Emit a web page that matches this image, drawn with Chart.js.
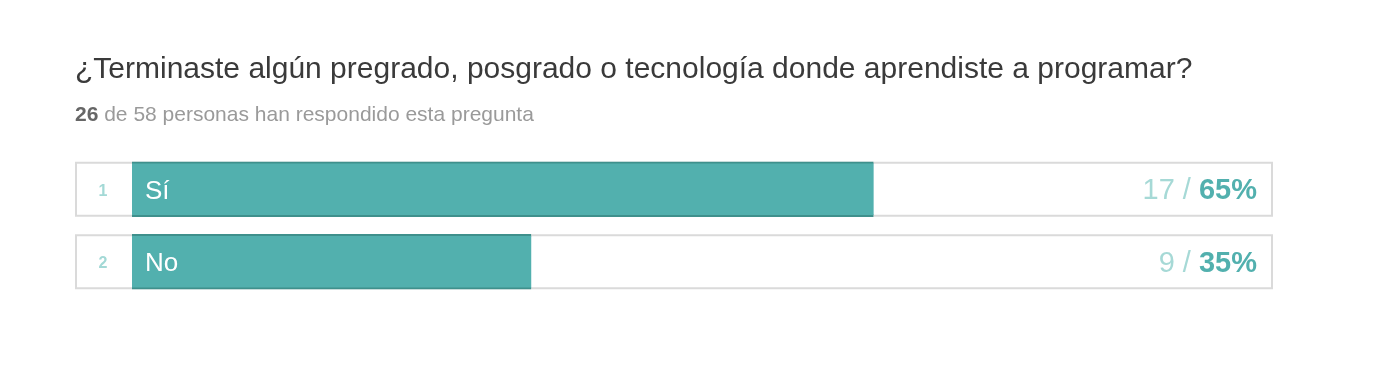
<!DOCTYPE html>
<html>
<head>
<meta charset="utf-8">
<script src="https://cdn.jsdelivr.net/npm/chart.js@4.4.0/dist/chart.umd.min.js"></script>
<style>
  body { margin: 0; background: #fff; font-family: "Liberation Sans", Arial, sans-serif; }
  #wrap { position: relative; width: 1384px; height: 370px; }
  #title { position: absolute; left: 75px; top: 53px; font-size: 30px; line-height: 30px; color: #3a3a3a; white-space: nowrap; }
  #sub { position: absolute; left: 75px; top: 103px; font-size: 21px; line-height: 21px; color: #9a9a9a; white-space: nowrap; }
  #sub b { color: #666; }
  canvas { position: absolute; left: 0; top: 0; }
</style>
</head>
<body>
<div id="wrap">
  <canvas id="surveyChart" width="1384" height="370"></canvas>
  <div id="title">¿Terminaste algún pregrado, posgrado o tecnología donde aprendiste a programar?</div>
  <div id="sub"><b id="answered"></b> de <span id="total"></span> personas han respondido esta pregunta</div>
</div>
<script>
let respuestas = ['Sí', 'No'];
let votos = [17, 9];
let porcentajes = [65, 35];
let respondieron = 26;
let personas = 58;

document.getElementById('answered').innerText = respondieron;
document.getElementById('total').innerText = personas;

// dibuja las cajas de cada fila y los textos (número, respuesta, conteo)
let filasPlugin = {
  id: 'filas',
  beforeDatasetsDraw(chart) {
    let ctx = chart.ctx, y = chart.scales.y, area = chart.chartArea;
    ctx.save();
    respuestas.forEach((r, i) => {
      let cy = y.getPixelForValue(i);
      ctx.strokeStyle = '#dadada';
      ctx.lineWidth = 2;
      ctx.strokeRect(76, cy - 26.5, area.right - 77, 53);
      ctx.fillStyle = '#a3d9d6';
      ctx.font = 'bold 16px "Liberation Sans", Arial';
      ctx.textAlign = 'center';
      ctx.textBaseline = 'alphabetic';
      ctx.fillText(String(i + 1), 103, cy + 6.5);
    });
    ctx.restore();
  },
  afterDatasetsDraw(chart) {
    let ctx = chart.ctx, y = chart.scales.y;
    ctx.save();
    ctx.textBaseline = 'alphabetic';
    respuestas.forEach((r, i) => {
      let cy = y.getPixelForValue(i);
      ctx.fillStyle = '#fff';
      ctx.textAlign = 'left';
      ctx.font = '26px "Liberation Sans", Arial';
      ctx.fillText(r, 145, cy + 9.5);
      ctx.textAlign = 'right';
      ctx.font = 'bold 29px "Liberation Sans", Arial';
      let pct = porcentajes[i] + '%';
      ctx.fillStyle = '#52b0ae';
      ctx.fillText(pct, 1257, cy + 10);
      let w = ctx.measureText(pct).width;
      ctx.font = '29px "Liberation Sans", Arial';
      ctx.fillStyle = '#a6d9d6';
      ctx.fillText(votos[i] + ' / ', 1257 - w, cy + 10);
    });
    ctx.restore();
  }
};

let surveyChart = new Chart(document.getElementById('surveyChart').getContext('2d'), {
  type: 'bar',
  data: {
    labels: respuestas,
    datasets: [{
      label: 'Respuestas',
      data: porcentajes,
      backgroundColor: '#52b0ae',
      borderColor: '#3f908c',
      borderWidth: {top: 2, bottom: 2, left: 0, right: 0},
      borderSkipped: false,
      barThickness: 55
    }]
  },
  options: {
    indexAxis: 'y',
    responsive: false,
    animation: false,
    layout: { padding: {left: 132, right: 111, top: 153, bottom: 72} },
    scales: {
      x: { display: false, min: 0, max: 100 },
      y: { display: false }
    },
    plugins: { legend: {display: false}, tooltip: {enabled: false} }
  },
  plugins: [filasPlugin]
});
</script>
</body>
</html>
